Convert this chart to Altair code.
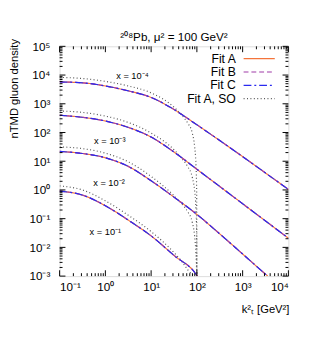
import altair as alt
import pandas as pd

# ---------------- data ----------------
series_names = ["Fit A", "Fit B", "Fit C", "Fit A, SO"]
series_colors = ["#f4743b", "#a03ca8", "#2a2af0", "#555555"]
series_dash = [[1, 0], [5, 3], [8, 3, 2, 3], [1, 2.5]]

x_values = ["1e-4", "1e-3", "1e-2", "1e-1"]
x_labels = ["x = 10⁻⁴", "x = 10⁻³", "x = 10⁻²", "x = 10⁻¹"]
label_k2 = [3.9, 1.25, 1.2, 1.0]
label_val = [8900, 51, 1.75, 0.035]

# Fit A / B / C (indistinguishable in the picture)
fit_k2 = {
    "1e-4": [0.1, 0.316, 1, 3.16, 10, 31.6, 100, 316, 1000, 3160, 10000],
    "1e-3": [0.1, 0.316, 1, 3.16, 10, 31.6, 100, 316, 1000, 3160, 10000],
    "1e-2": [0.1, 0.316, 1, 3.16, 10, 31.6, 100, 316, 1000, 3160, 3550],
    "1e-1": [0.1, 0.316, 1, 3.16, 10, 31.6, 100, 102],
}
fit_val = {
    "1e-4": [5750, 5370, 4170, 2820, 1660, 631, 186, 52.5, 14.5, 3.89, 1.05],
    "1e-3": [398, 339, 251, 151, 69.2, 20.9, 5.25, 1.32, 0.331, 0.0832, 0.0209],
    "1e-2": [21.9, 18.6, 13.2, 6.61, 2.09, 0.562, 0.141, 0.0295, 0.00589, 0.00117, 0.001],
    "1e-1": [0.912, 0.661, 0.282, 0.0891, 0.0251, 0.00525, 0.00105, 0.001],
}
# Fit A, SO (drops to zero at k_T^2 = mu^2 = 100)
so_k2 = {
    "1e-4": [0.1, 0.316, 1, 3.16, 10, 31.6, 50.1, 63.1, 79.4, 89.1, 95.5, 98.9, 100],
    "1e-3": [0.1, 0.316, 1, 3.16, 10, 31.6, 50.1, 63.1, 79.4, 89.1, 95.5, 98.9, 100],
    "1e-2": [0.1, 0.316, 1, 3.16, 10, 31.6, 50.1, 63.1, 79.4, 89.1, 95.5, 100],
    "1e-1": [0.1, 0.316, 1, 3.16, 10, 31.6, 50.1, 63.1, 79.4, 89.1],
}
so_val = {
    "1e-4": [8320, 7590, 6030, 4170, 2400, 759, 355, 214, 95.5, 33.1, 7.76, 0.955, 0.001],
    "1e-3": [562, 501, 372, 224, 95.5, 25.1, 11.0, 6.46, 2.75, 0.955, 0.219, 0.0269, 0.001],
    "1e-2": [31.6, 27.5, 19.1, 9.55, 2.95, 0.631, 0.288, 0.174, 0.0741, 0.0257, 0.00603, 0.001],
    "1e-1": [1.38, 1.0, 0.417, 0.132, 0.0355, 0.00661, 0.00282, 0.00166, 0.00112, 0.001],
}

x_ticks = [0.1, 1, 10, 100, 1000, 10000]
x_tick_labels = ["10⁻¹", "10⁰", "10¹", "10²", "10³", "10⁴"]
y_ticks = [1e-3, 1e-2, 1e-1, 1, 10, 100, 1000, 1e4, 1e5]
y_tick_labels = ["10⁻³", "10⁻²", "10⁻¹", "10⁰", "10¹", "10²", "10³", "10⁴", "10⁵"]
x_minor = [m * t for t in x_ticks[:-1] for m in range(2, 10)]
y_minor = [m * t for t in y_ticks[:-1] for m in range(2, 10)]

title_text = "²⁰⁸Pb, μ² = 100 GeV²"
x_title = "k²ₜ [GeV²]"
y_title = "nTMD gluon density"

# ---------------- build tables ----------------
rows = []
for xv in x_values:
    for s in series_names[:3]:
        for k, v in zip(fit_k2[xv], fit_val[xv]):
            rows.append({"k": k, "v": v, "series": s, "curve": s + xv})
    for k, v in zip(so_k2[xv], so_val[xv]):
        rows.append({"k": k, "v": v, "series": series_names[3], "curve": "SO" + xv})
df = pd.DataFrame(rows)
lab = pd.DataFrame({"k": label_k2, "v": label_val, "t": x_labels})

W, H = 235, 236
FONT = "Liberation Sans"
xscale = alt.Scale(type="log", domain=[0.1, 10000], nice=False)
yscale = alt.Scale(type="log", domain=[0.001, 100000], nice=False)
cscale = alt.Scale(domain=series_names, range=series_colors)
dscale = alt.Scale(domain=series_names, range=series_dash)


def js_list(items):
    return "[" + ",".join("'" + s + "'" for s in items) + "]"


x_expr = js_list(x_tick_labels) + "[round(log(datum.value)/LN10)+1]"
y_expr = js_list(y_tick_labels) + "[round(log(datum.value)/LN10)+3]"

x_axis = alt.Axis(values=x_ticks, labelExpr=x_expr, ticks=False, domain=False, grid=False,
                  labelPadding=6, labelFontSize=12, labelFont=FONT, labelColor="black",
                  title=x_title, titleFont=FONT, titleFontSize=11.5, titleFontWeight="normal",
                  titleX=211, titleY=34, titleBaseline="middle", titleAlign="center")
y_axis = alt.Axis(values=y_ticks, labelExpr=y_expr, ticks=False, domain=False, grid=False,
                  labelPadding=10, labelFontSize=12, labelFont=FONT, labelColor="black",
                  title=y_title, titleFont=FONT, titleFontSize=11.5, titleFontWeight="normal",
                  titleAngle=270, titleX=-46, titleY=43, titleBaseline="middle", titleAlign="center")

layers = []
order = [series_names[3]] + series_names[:3]
for i, s in enumerate(order):
    sub = df[df["series"] == s]
    enc = dict(
        x=alt.X("k:Q", scale=xscale, axis=x_axis if i == 0 else alt.Undefined),
        y=alt.Y("v:Q", scale=yscale, axis=y_axis if i == 0 else alt.Undefined),
        color=alt.Color("series:N", scale=cscale, legend=None),
        strokeDash=alt.StrokeDash("series:N", scale=dscale, legend=None),
        detail="curve:N",
    )
    layers.append(alt.Chart(sub).mark_line(strokeWidth=1.2, interpolate="monotone", clip=True).encode(**enc))

layers.append(alt.Chart(lab).mark_text(fontSize=9.5, font=FONT, color="black").encode(
    x=alt.X("k:Q", scale=xscale), y=alt.Y("v:Q", scale=yscale), text="t:N"))

# inward ticks on all four sides
xt_major = pd.DataFrame({"k": x_ticks})
xt_minor = pd.DataFrame({"k": x_minor})
yt_major = pd.DataFrame({"v": y_ticks})
yt_minor = pd.DataFrame({"v": y_minor})
for d, L in [(xt_major, 6), (xt_minor, 3)]:
    layers.append(alt.Chart(d).mark_rule(color="black", strokeWidth=1).encode(
        x=alt.X("k:Q", scale=xscale), y=alt.value(H), y2=alt.value(H - L)))
    layers.append(alt.Chart(d).mark_rule(color="black", strokeWidth=1).encode(
        x=alt.X("k:Q", scale=xscale), y=alt.value(0), y2=alt.value(L)))
for d, L in [(yt_major, 6), (yt_minor, 3)]:
    layers.append(alt.Chart(d).mark_rule(color="black", strokeWidth=1).encode(
        y=alt.Y("v:Q", scale=yscale), x=alt.value(0), x2=alt.value(L)))
    layers.append(alt.Chart(d).mark_rule(color="black", strokeWidth=1).encode(
        y=alt.Y("v:Q", scale=yscale), x=alt.value(W), x2=alt.value(W - L)))

main = alt.layer(*layers)

# key (label on the left, line sample on the right), gnuplot style
key = pd.DataFrame({"series": series_names})
kscale = alt.Scale(type="point", domain=series_names, range=[12.7, 53.7], padding=0)
key_text = alt.Chart(key).mark_text(align="right", baseline="middle", fontSize=12.5, font=FONT,
                                    color="black").encode(
    y=alt.Y("series:N", scale=kscale, axis=None), x=alt.value(181), text="series:N")
key_line = alt.Chart(key).mark_rule(strokeWidth=1.2).encode(
    y=alt.Y("series:N", scale=kscale, axis=None), x=alt.value(189), x2=alt.value(221),
    color=alt.Color("series:N", scale=cscale, legend=None),
    strokeDash=alt.StrokeDash("series:N", scale=dscale, legend=None))

chart = alt.layer(main, key_text, key_line).resolve_scale(y="independent").properties(
    width=W, height=H,
    title=alt.TitleParams(title_text, font=FONT, fontSize=12, fontWeight="normal",
                          color="black", offset=3, dy=9),
    autosize=alt.AutoSizeParams(type="none"),
    padding={"left": 53, "top": 35, "right": 15, "bottom": 52},
).configure_view(stroke="black", strokeWidth=1).configure(background="white")

chart.save("out.html", embed_options={"renderer": "svg", "actions": False})
